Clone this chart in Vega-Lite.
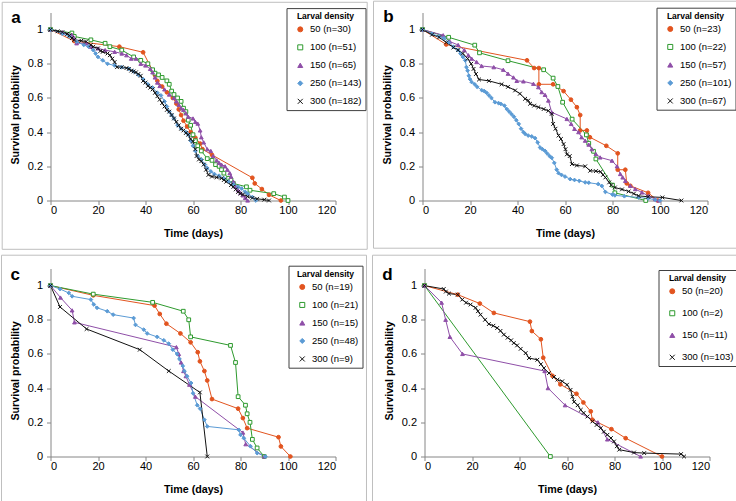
{
"$schema":"https://vega.github.io/schema/vega-lite/v6.json",
"padding":{"left":0.5,"top":0.5,"right":0,"bottom":0},
"spacing":4,
"data":{"values":[
{"p":"a","g":"50 (n=30)","t":0,"s":1},{"p":"a","g":"50 (n=30)","t":10,"s":0.933},{"p":"a","g":"50 (n=30)","t":29,"s":0.9},{"p":"a","g":"50 (n=30)","t":39,"s":0.867},{"p":"a","g":"50 (n=30)","t":44,"s":0.733},{"p":"a","g":"50 (n=30)","t":45,"s":0.7},{"p":"a","g":"50 (n=30)","t":47,"s":0.667},{"p":"a","g":"50 (n=30)","t":49,"s":0.633},{"p":"a","g":"50 (n=30)","t":51.5,"s":0.6},{"p":"a","g":"50 (n=30)","t":53,"s":0.567},{"p":"a","g":"50 (n=30)","t":54,"s":0.533},{"p":"a","g":"50 (n=30)","t":55,"s":0.5},{"p":"a","g":"50 (n=30)","t":56,"s":0.467},{"p":"a","g":"50 (n=30)","t":57.5,"s":0.433},{"p":"a","g":"50 (n=30)","t":59,"s":0.4},{"p":"a","g":"50 (n=30)","t":61,"s":0.367},{"p":"a","g":"50 (n=30)","t":63,"s":0.333},{"p":"a","g":"50 (n=30)","t":64,"s":0.3},{"p":"a","g":"50 (n=30)","t":68,"s":0.267},{"p":"a","g":"50 (n=30)","t":85,"s":0.133},{"p":"a","g":"50 (n=30)","t":86,"s":0.1},{"p":"a","g":"50 (n=30)","t":89,"s":0.067},{"p":"a","g":"50 (n=30)","t":92,"s":0.033},{"p":"a","g":"50 (n=30)","t":97,"s":0},
{"p":"a","g":"100 (n=51)","t":0,"s":1},{"p":"a","g":"100 (n=51)","t":9,"s":0.98},{"p":"a","g":"100 (n=51)","t":10,"s":0.96},{"p":"a","g":"100 (n=51)","t":17,"s":0.94},{"p":"a","g":"100 (n=51)","t":23,"s":0.92},{"p":"a","g":"100 (n=51)","t":25,"s":0.9},{"p":"a","g":"100 (n=51)","t":30,"s":0.88},{"p":"a","g":"100 (n=51)","t":35,"s":0.84},{"p":"a","g":"100 (n=51)","t":38,"s":0.82},{"p":"a","g":"100 (n=51)","t":41,"s":0.8},{"p":"a","g":"100 (n=51)","t":43,"s":0.765},{"p":"a","g":"100 (n=51)","t":44,"s":0.745},{"p":"a","g":"100 (n=51)","t":45.5,"s":0.735},{"p":"a","g":"100 (n=51)","t":47,"s":0.72},{"p":"a","g":"100 (n=51)","t":49,"s":0.7},{"p":"a","g":"100 (n=51)","t":50,"s":0.68},{"p":"a","g":"100 (n=51)","t":51,"s":0.64},{"p":"a","g":"100 (n=51)","t":52,"s":0.62},{"p":"a","g":"100 (n=51)","t":53.5,"s":0.6},{"p":"a","g":"100 (n=51)","t":55,"s":0.58},{"p":"a","g":"100 (n=51)","t":56,"s":0.54},{"p":"a","g":"100 (n=51)","t":57,"s":0.52},{"p":"a","g":"100 (n=51)","t":58,"s":0.47},{"p":"a","g":"100 (n=51)","t":59,"s":0.44},{"p":"a","g":"100 (n=51)","t":60,"s":0.385},{"p":"a","g":"100 (n=51)","t":61,"s":0.35},{"p":"a","g":"100 (n=51)","t":62,"s":0.32},{"p":"a","g":"100 (n=51)","t":63.5,"s":0.29},{"p":"a","g":"100 (n=51)","t":66,"s":0.245},{"p":"a","g":"100 (n=51)","t":68,"s":0.235},{"p":"a","g":"100 (n=51)","t":69.5,"s":0.21},{"p":"a","g":"100 (n=51)","t":71,"s":0.2},{"p":"a","g":"100 (n=51)","t":72,"s":0.18},{"p":"a","g":"100 (n=51)","t":73,"s":0.16},{"p":"a","g":"100 (n=51)","t":75,"s":0.13},{"p":"a","g":"100 (n=51)","t":76,"s":0.12},{"p":"a","g":"100 (n=51)","t":77,"s":0.1},{"p":"a","g":"100 (n=51)","t":82.5,"s":0.08},{"p":"a","g":"100 (n=51)","t":84,"s":0.06},{"p":"a","g":"100 (n=51)","t":94,"s":0.04},{"p":"a","g":"100 (n=51)","t":98.5,"s":0.02},{"p":"a","g":"100 (n=51)","t":100,"s":0},
{"p":"a","g":"150 (n=65)","t":0,"s":1},{"p":"a","g":"150 (n=65)","t":5,"s":0.985},{"p":"a","g":"150 (n=65)","t":9,"s":0.97},{"p":"a","g":"150 (n=65)","t":10,"s":0.95},{"p":"a","g":"150 (n=65)","t":11,"s":0.92},{"p":"a","g":"150 (n=65)","t":15,"s":0.92},{"p":"a","g":"150 (n=65)","t":17,"s":0.9},{"p":"a","g":"150 (n=65)","t":20,"s":0.89},{"p":"a","g":"150 (n=65)","t":23,"s":0.88},{"p":"a","g":"150 (n=65)","t":27,"s":0.87},{"p":"a","g":"150 (n=65)","t":30,"s":0.86},{"p":"a","g":"150 (n=65)","t":32,"s":0.85},{"p":"a","g":"150 (n=65)","t":34,"s":0.83},{"p":"a","g":"150 (n=65)","t":36,"s":0.83},{"p":"a","g":"150 (n=65)","t":38,"s":0.8},{"p":"a","g":"150 (n=65)","t":40,"s":0.79},{"p":"a","g":"150 (n=65)","t":42,"s":0.77},{"p":"a","g":"150 (n=65)","t":43,"s":0.75},{"p":"a","g":"150 (n=65)","t":44,"s":0.72},{"p":"a","g":"150 (n=65)","t":45,"s":0.69},{"p":"a","g":"150 (n=65)","t":46,"s":0.67},{"p":"a","g":"150 (n=65)","t":48,"s":0.65},{"p":"a","g":"150 (n=65)","t":50,"s":0.62},{"p":"a","g":"150 (n=65)","t":52,"s":0.6},{"p":"a","g":"150 (n=65)","t":53,"s":0.58},{"p":"a","g":"150 (n=65)","t":54,"s":0.56},{"p":"a","g":"150 (n=65)","t":55,"s":0.54},{"p":"a","g":"150 (n=65)","t":56,"s":0.53},{"p":"a","g":"150 (n=65)","t":57,"s":0.51},{"p":"a","g":"150 (n=65)","t":58,"s":0.49},{"p":"a","g":"150 (n=65)","t":60,"s":0.48},{"p":"a","g":"150 (n=65)","t":61,"s":0.46},{"p":"a","g":"150 (n=65)","t":62,"s":0.45},{"p":"a","g":"150 (n=65)","t":63,"s":0.41},{"p":"a","g":"150 (n=65)","t":63.5,"s":0.37},{"p":"a","g":"150 (n=65)","t":64.5,"s":0.34},{"p":"a","g":"150 (n=65)","t":66,"s":0.3},{"p":"a","g":"150 (n=65)","t":67.5,"s":0.29},{"p":"a","g":"150 (n=65)","t":68.5,"s":0.26},{"p":"a","g":"150 (n=65)","t":70,"s":0.235},{"p":"a","g":"150 (n=65)","t":71,"s":0.22},{"p":"a","g":"150 (n=65)","t":72,"s":0.21},{"p":"a","g":"150 (n=65)","t":73.5,"s":0.2},{"p":"a","g":"150 (n=65)","t":74.5,"s":0.18},{"p":"a","g":"150 (n=65)","t":75.5,"s":0.16},{"p":"a","g":"150 (n=65)","t":76,"s":0.14},{"p":"a","g":"150 (n=65)","t":77,"s":0.11},{"p":"a","g":"150 (n=65)","t":78,"s":0.08},{"p":"a","g":"150 (n=65)","t":79,"s":0.06},{"p":"a","g":"150 (n=65)","t":80,"s":0.045},{"p":"a","g":"150 (n=65)","t":81,"s":0.03},{"p":"a","g":"150 (n=65)","t":82,"s":0.015},{"p":"a","g":"150 (n=65)","t":83,"s":0},
{"p":"a","g":"250 (n=143)","t":0,"s":1},{"p":"a","g":"250 (n=143)","t":5,"s":0.975},{"p":"a","g":"250 (n=143)","t":8,"s":0.96},{"p":"a","g":"250 (n=143)","t":11,"s":0.93},{"p":"a","g":"250 (n=143)","t":14,"s":0.91},{"p":"a","g":"250 (n=143)","t":16,"s":0.9},{"p":"a","g":"250 (n=143)","t":18,"s":0.88},{"p":"a","g":"250 (n=143)","t":19,"s":0.86},{"p":"a","g":"250 (n=143)","t":20,"s":0.84},{"p":"a","g":"250 (n=143)","t":22,"s":0.82},{"p":"a","g":"250 (n=143)","t":24,"s":0.8},{"p":"a","g":"250 (n=143)","t":27,"s":0.79},{"p":"a","g":"250 (n=143)","t":30,"s":0.78},{"p":"a","g":"250 (n=143)","t":33,"s":0.77},{"p":"a","g":"250 (n=143)","t":35,"s":0.755},{"p":"a","g":"250 (n=143)","t":37,"s":0.735},{"p":"a","g":"250 (n=143)","t":39,"s":0.71},{"p":"a","g":"250 (n=143)","t":41,"s":0.68},{"p":"a","g":"250 (n=143)","t":43,"s":0.66},{"p":"a","g":"250 (n=143)","t":45,"s":0.63},{"p":"a","g":"250 (n=143)","t":46.5,"s":0.615},{"p":"a","g":"250 (n=143)","t":48,"s":0.58},{"p":"a","g":"250 (n=143)","t":49,"s":0.55},{"p":"a","g":"250 (n=143)","t":50,"s":0.52},{"p":"a","g":"250 (n=143)","t":51,"s":0.5},{"p":"a","g":"250 (n=143)","t":52,"s":0.48},{"p":"a","g":"250 (n=143)","t":53.5,"s":0.44},{"p":"a","g":"250 (n=143)","t":55,"s":0.42},{"p":"a","g":"250 (n=143)","t":57,"s":0.4},{"p":"a","g":"250 (n=143)","t":58,"s":0.385},{"p":"a","g":"250 (n=143)","t":59,"s":0.35},{"p":"a","g":"250 (n=143)","t":60,"s":0.32},{"p":"a","g":"250 (n=143)","t":61,"s":0.29},{"p":"a","g":"250 (n=143)","t":62,"s":0.26},{"p":"a","g":"250 (n=143)","t":63.5,"s":0.24},{"p":"a","g":"250 (n=143)","t":65,"s":0.21},{"p":"a","g":"250 (n=143)","t":66,"s":0.19},{"p":"a","g":"250 (n=143)","t":67.5,"s":0.17},{"p":"a","g":"250 (n=143)","t":69,"s":0.155},{"p":"a","g":"250 (n=143)","t":71,"s":0.145},{"p":"a","g":"250 (n=143)","t":73,"s":0.13},{"p":"a","g":"250 (n=143)","t":75,"s":0.11},{"p":"a","g":"250 (n=143)","t":77,"s":0.095},{"p":"a","g":"250 (n=143)","t":79,"s":0.08},{"p":"a","g":"250 (n=143)","t":80.5,"s":0.07},{"p":"a","g":"250 (n=143)","t":82,"s":0.05},{"p":"a","g":"250 (n=143)","t":83,"s":0.04},{"p":"a","g":"250 (n=143)","t":85,"s":0.02},{"p":"a","g":"250 (n=143)","t":86.5,"s":0},
{"p":"a","g":"300 (n=182)","t":0,"s":1},{"p":"a","g":"300 (n=182)","t":3,"s":0.99},{"p":"a","g":"300 (n=182)","t":5,"s":0.985},{"p":"a","g":"300 (n=182)","t":7,"s":0.975},{"p":"a","g":"300 (n=182)","t":8,"s":0.965},{"p":"a","g":"300 (n=182)","t":9,"s":0.95},{"p":"a","g":"300 (n=182)","t":10,"s":0.94},{"p":"a","g":"300 (n=182)","t":13,"s":0.935},{"p":"a","g":"300 (n=182)","t":15,"s":0.93},{"p":"a","g":"300 (n=182)","t":17,"s":0.91},{"p":"a","g":"300 (n=182)","t":18,"s":0.9},{"p":"a","g":"300 (n=182)","t":20,"s":0.89},{"p":"a","g":"300 (n=182)","t":21,"s":0.875},{"p":"a","g":"300 (n=182)","t":22,"s":0.87},{"p":"a","g":"300 (n=182)","t":24,"s":0.86},{"p":"a","g":"300 (n=182)","t":25,"s":0.85},{"p":"a","g":"300 (n=182)","t":26,"s":0.83},{"p":"a","g":"300 (n=182)","t":27,"s":0.81},{"p":"a","g":"300 (n=182)","t":28,"s":0.78},{"p":"a","g":"300 (n=182)","t":30,"s":0.78},{"p":"a","g":"300 (n=182)","t":32,"s":0.775},{"p":"a","g":"300 (n=182)","t":33,"s":0.77},{"p":"a","g":"300 (n=182)","t":34,"s":0.76},{"p":"a","g":"300 (n=182)","t":35,"s":0.755},{"p":"a","g":"300 (n=182)","t":36,"s":0.75},{"p":"a","g":"300 (n=182)","t":37,"s":0.74},{"p":"a","g":"300 (n=182)","t":38,"s":0.73},{"p":"a","g":"300 (n=182)","t":39,"s":0.7},{"p":"a","g":"300 (n=182)","t":40,"s":0.69},{"p":"a","g":"300 (n=182)","t":41,"s":0.67},{"p":"a","g":"300 (n=182)","t":42,"s":0.66},{"p":"a","g":"300 (n=182)","t":43,"s":0.65},{"p":"a","g":"300 (n=182)","t":44,"s":0.63},{"p":"a","g":"300 (n=182)","t":45,"s":0.61},{"p":"a","g":"300 (n=182)","t":46,"s":0.59},{"p":"a","g":"300 (n=182)","t":47,"s":0.57},{"p":"a","g":"300 (n=182)","t":48,"s":0.55},{"p":"a","g":"300 (n=182)","t":49,"s":0.53},{"p":"a","g":"300 (n=182)","t":50,"s":0.52},{"p":"a","g":"300 (n=182)","t":51,"s":0.5},{"p":"a","g":"300 (n=182)","t":52,"s":0.48},{"p":"a","g":"300 (n=182)","t":53,"s":0.46},{"p":"a","g":"300 (n=182)","t":54,"s":0.44},{"p":"a","g":"300 (n=182)","t":55,"s":0.42},{"p":"a","g":"300 (n=182)","t":56,"s":0.41},{"p":"a","g":"300 (n=182)","t":57,"s":0.395},{"p":"a","g":"300 (n=182)","t":58,"s":0.385},{"p":"a","g":"300 (n=182)","t":59,"s":0.36},{"p":"a","g":"300 (n=182)","t":60,"s":0.345},{"p":"a","g":"300 (n=182)","t":61,"s":0.3},{"p":"a","g":"300 (n=182)","t":61.5,"s":0.26},{"p":"a","g":"300 (n=182)","t":62.5,"s":0.24},{"p":"a","g":"300 (n=182)","t":63.5,"s":0.23},{"p":"a","g":"300 (n=182)","t":64.5,"s":0.21},{"p":"a","g":"300 (n=182)","t":65.5,"s":0.18},{"p":"a","g":"300 (n=182)","t":66.5,"s":0.15},{"p":"a","g":"300 (n=182)","t":68,"s":0.14},{"p":"a","g":"300 (n=182)","t":70,"s":0.135},{"p":"a","g":"300 (n=182)","t":72,"s":0.13},{"p":"a","g":"300 (n=182)","t":73,"s":0.12},{"p":"a","g":"300 (n=182)","t":74,"s":0.11},{"p":"a","g":"300 (n=182)","t":76,"s":0.09},{"p":"a","g":"300 (n=182)","t":77,"s":0.08},{"p":"a","g":"300 (n=182)","t":78,"s":0.065},{"p":"a","g":"300 (n=182)","t":79,"s":0.05},{"p":"a","g":"300 (n=182)","t":80,"s":0.04},{"p":"a","g":"300 (n=182)","t":81,"s":0.035},{"p":"a","g":"300 (n=182)","t":83,"s":0.023},{"p":"a","g":"300 (n=182)","t":85,"s":0.015},{"p":"a","g":"300 (n=182)","t":87,"s":0.01},{"p":"a","g":"300 (n=182)","t":90,"s":0.005},{"p":"a","g":"300 (n=182)","t":92,"s":0},
{"p":"b","g":"50 (n=23)","t":0,"s":1},{"p":"b","g":"50 (n=23)","t":10,"s":0.913},{"p":"b","g":"50 (n=23)","t":44,"s":0.82},{"p":"b","g":"50 (n=23)","t":47,"s":0.775},{"p":"b","g":"50 (n=23)","t":49,"s":0.775},{"p":"b","g":"50 (n=23)","t":49,"s":0.68},{"p":"b","g":"50 (n=23)","t":55,"s":0.68},{"p":"b","g":"50 (n=23)","t":59.4,"s":0.64},{"p":"b","g":"50 (n=23)","t":62.5,"s":0.59},{"p":"b","g":"50 (n=23)","t":65,"s":0.546},{"p":"b","g":"50 (n=23)","t":66.4,"s":0.5},{"p":"b","g":"50 (n=23)","t":66.4,"s":0.41},{"p":"b","g":"50 (n=23)","t":69.2,"s":0.41},{"p":"b","g":"50 (n=23)","t":70.5,"s":0.37},{"p":"b","g":"50 (n=23)","t":77.4,"s":0.32},{"p":"b","g":"50 (n=23)","t":82.2,"s":0.276},{"p":"b","g":"50 (n=23)","t":82.2,"s":0.18},{"p":"b","g":"50 (n=23)","t":85.4,"s":0.18},{"p":"b","g":"50 (n=23)","t":86,"s":0.1},{"p":"b","g":"50 (n=23)","t":87.5,"s":0.086},{"p":"b","g":"50 (n=23)","t":95,"s":0.045},{"p":"b","g":"50 (n=23)","t":99,"s":0},
{"p":"b","g":"100 (n=22)","t":0,"s":1},{"p":"b","g":"100 (n=22)","t":11,"s":0.955},{"p":"b","g":"100 (n=22)","t":22,"s":0.909},{"p":"b","g":"100 (n=22)","t":24,"s":0.864},{"p":"b","g":"100 (n=22)","t":36,"s":0.818},{"p":"b","g":"100 (n=22)","t":51,"s":0.765},{"p":"b","g":"100 (n=22)","t":55,"s":0.716},{"p":"b","g":"100 (n=22)","t":57,"s":0.667},{"p":"b","g":"100 (n=22)","t":59,"s":0.575},{"p":"b","g":"100 (n=22)","t":63,"s":0.476},{"p":"b","g":"100 (n=22)","t":69,"s":0.384},{"p":"b","g":"100 (n=22)","t":70,"s":0.335},{"p":"b","g":"100 (n=22)","t":72,"s":0.288},{"p":"b","g":"100 (n=22)","t":73,"s":0.243},{"p":"b","g":"100 (n=22)","t":80,"s":0.09},{"p":"b","g":"100 (n=22)","t":81,"s":0.045},{"p":"b","g":"100 (n=22)","t":94,"s":0},
{"p":"b","g":"150 (n=57)","t":0,"s":1},{"p":"b","g":"150 (n=57)","t":8.7,"s":0.967},{"p":"b","g":"150 (n=57)","t":11.5,"s":0.93},{"p":"b","g":"150 (n=57)","t":15,"s":0.91},{"p":"b","g":"150 (n=57)","t":17.6,"s":0.88},{"p":"b","g":"150 (n=57)","t":19.3,"s":0.85},{"p":"b","g":"150 (n=57)","t":20.7,"s":0.83},{"p":"b","g":"150 (n=57)","t":22.8,"s":0.81},{"p":"b","g":"150 (n=57)","t":24.9,"s":0.787},{"p":"b","g":"150 (n=57)","t":30,"s":0.78},{"p":"b","g":"150 (n=57)","t":34,"s":0.765},{"p":"b","g":"150 (n=57)","t":36,"s":0.742},{"p":"b","g":"150 (n=57)","t":38.3,"s":0.72},{"p":"b","g":"150 (n=57)","t":39.7,"s":0.7},{"p":"b","g":"150 (n=57)","t":42.5,"s":0.697},{"p":"b","g":"150 (n=57)","t":46.7,"s":0.683},{"p":"b","g":"150 (n=57)","t":48.8,"s":0.663},{"p":"b","g":"150 (n=57)","t":50.2,"s":0.634},{"p":"b","g":"150 (n=57)","t":51.6,"s":0.618},{"p":"b","g":"150 (n=57)","t":53,"s":0.585},{"p":"b","g":"150 (n=57)","t":54.4,"s":0.516},{"p":"b","g":"150 (n=57)","t":60.8,"s":0.477},{"p":"b","g":"150 (n=57)","t":62.6,"s":0.448},{"p":"b","g":"150 (n=57)","t":64,"s":0.419},{"p":"b","g":"150 (n=57)","t":65.7,"s":0.4},{"p":"b","g":"150 (n=57)","t":67,"s":0.37},{"p":"b","g":"150 (n=57)","t":68.5,"s":0.35},{"p":"b","g":"150 (n=57)","t":70,"s":0.327},{"p":"b","g":"150 (n=57)","t":71.3,"s":0.3},{"p":"b","g":"150 (n=57)","t":73,"s":0.272},{"p":"b","g":"150 (n=57)","t":74.8,"s":0.252},{"p":"b","g":"150 (n=57)","t":79.8,"s":0.233},{"p":"b","g":"150 (n=57)","t":81.9,"s":0.2},{"p":"b","g":"150 (n=57)","t":83.3,"s":0.155},{"p":"b","g":"150 (n=57)","t":84.3,"s":0.135},{"p":"b","g":"150 (n=57)","t":85.4,"s":0.115},{"p":"b","g":"150 (n=57)","t":87.5,"s":0.086},{"p":"b","g":"150 (n=57)","t":89.6,"s":0.067},{"p":"b","g":"150 (n=57)","t":92.4,"s":0.047},{"p":"b","g":"150 (n=57)","t":95.2,"s":0.027},{"p":"b","g":"150 (n=57)","t":98,"s":0.008},{"p":"b","g":"150 (n=57)","t":99.5,"s":0},
{"p":"b","g":"250 (n=101)","t":0,"s":1},{"p":"b","g":"250 (n=101)","t":4,"s":0.975},{"p":"b","g":"250 (n=101)","t":7,"s":0.96},{"p":"b","g":"250 (n=101)","t":9,"s":0.95},{"p":"b","g":"250 (n=101)","t":11,"s":0.925},{"p":"b","g":"250 (n=101)","t":13,"s":0.9},{"p":"b","g":"250 (n=101)","t":15,"s":0.88},{"p":"b","g":"250 (n=101)","t":16,"s":0.86},{"p":"b","g":"250 (n=101)","t":17,"s":0.84},{"p":"b","g":"250 (n=101)","t":18,"s":0.82},{"p":"b","g":"250 (n=101)","t":18.5,"s":0.78},{"p":"b","g":"250 (n=101)","t":19,"s":0.76},{"p":"b","g":"250 (n=101)","t":19.5,"s":0.73},{"p":"b","g":"250 (n=101)","t":20,"s":0.71},{"p":"b","g":"250 (n=101)","t":20.7,"s":0.693},{"p":"b","g":"250 (n=101)","t":22,"s":0.68},{"p":"b","g":"250 (n=101)","t":23,"s":0.665},{"p":"b","g":"250 (n=101)","t":25,"s":0.645},{"p":"b","g":"250 (n=101)","t":26,"s":0.64},{"p":"b","g":"250 (n=101)","t":27,"s":0.63},{"p":"b","g":"250 (n=101)","t":28,"s":0.615},{"p":"b","g":"250 (n=101)","t":29,"s":0.6},{"p":"b","g":"250 (n=101)","t":30.5,"s":0.575},{"p":"b","g":"250 (n=101)","t":32,"s":0.57},{"p":"b","g":"250 (n=101)","t":33,"s":0.565},{"p":"b","g":"250 (n=101)","t":34.5,"s":0.555},{"p":"b","g":"250 (n=101)","t":35.5,"s":0.535},{"p":"b","g":"250 (n=101)","t":36.5,"s":0.52},{"p":"b","g":"250 (n=101)","t":37.5,"s":0.505},{"p":"b","g":"250 (n=101)","t":38.5,"s":0.49},{"p":"b","g":"250 (n=101)","t":39.5,"s":0.47},{"p":"b","g":"250 (n=101)","t":40.5,"s":0.448},{"p":"b","g":"250 (n=101)","t":41.5,"s":0.42},{"p":"b","g":"250 (n=101)","t":42.5,"s":0.4},{"p":"b","g":"250 (n=101)","t":43.2,"s":0.39},{"p":"b","g":"250 (n=101)","t":44.5,"s":0.38},{"p":"b","g":"250 (n=101)","t":46,"s":0.375},{"p":"b","g":"250 (n=101)","t":47.4,"s":0.365},{"p":"b","g":"250 (n=101)","t":48.5,"s":0.34},{"p":"b","g":"250 (n=101)","t":49.5,"s":0.31},{"p":"b","g":"250 (n=101)","t":50.5,"s":0.3},{"p":"b","g":"250 (n=101)","t":51.6,"s":0.29},{"p":"b","g":"250 (n=101)","t":52.5,"s":0.275},{"p":"b","g":"250 (n=101)","t":53.5,"s":0.26},{"p":"b","g":"250 (n=101)","t":54.4,"s":0.25},{"p":"b","g":"250 (n=101)","t":55.5,"s":0.22},{"p":"b","g":"250 (n=101)","t":56.5,"s":0.18},{"p":"b","g":"250 (n=101)","t":57.3,"s":0.16},{"p":"b","g":"250 (n=101)","t":58.5,"s":0.15},{"p":"b","g":"250 (n=101)","t":60,"s":0.14},{"p":"b","g":"250 (n=101)","t":62.2,"s":0.125},{"p":"b","g":"250 (n=101)","t":64,"s":0.12},{"p":"b","g":"250 (n=101)","t":66,"s":0.115},{"p":"b","g":"250 (n=101)","t":68.5,"s":0.106},{"p":"b","g":"250 (n=101)","t":70,"s":0.104},{"p":"b","g":"250 (n=101)","t":74,"s":0.096},{"p":"b","g":"250 (n=101)","t":75.5,"s":0.085},{"p":"b","g":"250 (n=101)","t":77,"s":0.05},{"p":"b","g":"250 (n=101)","t":80,"s":0.035},{"p":"b","g":"250 (n=101)","t":81,"s":0.03},{"p":"b","g":"250 (n=101)","t":85,"s":0.025},{"p":"b","g":"250 (n=101)","t":91,"s":0.018},{"p":"b","g":"250 (n=101)","t":95,"s":0.012},{"p":"b","g":"250 (n=101)","t":98,"s":0.004},{"p":"b","g":"250 (n=101)","t":100,"s":0},
{"p":"b","g":"300 (n=67)","t":0,"s":1},{"p":"b","g":"300 (n=67)","t":4,"s":0.97},{"p":"b","g":"300 (n=67)","t":7,"s":0.955},{"p":"b","g":"300 (n=67)","t":10,"s":0.925},{"p":"b","g":"300 (n=67)","t":13,"s":0.895},{"p":"b","g":"300 (n=67)","t":15,"s":0.88},{"p":"b","g":"300 (n=67)","t":17,"s":0.86},{"p":"b","g":"300 (n=67)","t":19,"s":0.83},{"p":"b","g":"300 (n=67)","t":20.5,"s":0.8},{"p":"b","g":"300 (n=67)","t":21.5,"s":0.77},{"p":"b","g":"300 (n=67)","t":22.5,"s":0.74},{"p":"b","g":"300 (n=67)","t":23.8,"s":0.708},{"p":"b","g":"300 (n=67)","t":28,"s":0.7},{"p":"b","g":"300 (n=67)","t":33.3,"s":0.68},{"p":"b","g":"300 (n=67)","t":36,"s":0.665},{"p":"b","g":"300 (n=67)","t":39,"s":0.644},{"p":"b","g":"300 (n=67)","t":41,"s":0.625},{"p":"b","g":"300 (n=67)","t":43.2,"s":0.595},{"p":"b","g":"300 (n=67)","t":44.5,"s":0.585},{"p":"b","g":"300 (n=67)","t":45.3,"s":0.566},{"p":"b","g":"300 (n=67)","t":47,"s":0.555},{"p":"b","g":"300 (n=67)","t":48.8,"s":0.546},{"p":"b","g":"300 (n=67)","t":51,"s":0.535},{"p":"b","g":"300 (n=67)","t":53,"s":0.525},{"p":"b","g":"300 (n=67)","t":54.4,"s":0.507},{"p":"b","g":"300 (n=67)","t":55,"s":0.448},{"p":"b","g":"300 (n=67)","t":56,"s":0.42},{"p":"b","g":"300 (n=67)","t":57.3,"s":0.38},{"p":"b","g":"300 (n=67)","t":58.3,"s":0.36},{"p":"b","g":"300 (n=67)","t":59.4,"s":0.33},{"p":"b","g":"300 (n=67)","t":60.2,"s":0.3},{"p":"b","g":"300 (n=67)","t":60.8,"s":0.27},{"p":"b","g":"300 (n=67)","t":62,"s":0.26},{"p":"b","g":"300 (n=67)","t":62.9,"s":0.213},{"p":"b","g":"300 (n=67)","t":65,"s":0.205},{"p":"b","g":"300 (n=67)","t":68.5,"s":0.2},{"p":"b","g":"300 (n=67)","t":70.6,"s":0.174},{"p":"b","g":"300 (n=67)","t":73,"s":0.172},{"p":"b","g":"300 (n=67)","t":75,"s":0.168},{"p":"b","g":"300 (n=67)","t":76,"s":0.15},{"p":"b","g":"300 (n=67)","t":77,"s":0.135},{"p":"b","g":"300 (n=67)","t":78.6,"s":0.106},{"p":"b","g":"300 (n=67)","t":79.5,"s":0.09},{"p":"b","g":"300 (n=67)","t":81,"s":0.076},{"p":"b","g":"300 (n=67)","t":84,"s":0.065},{"p":"b","g":"300 (n=67)","t":86.8,"s":0.053},{"p":"b","g":"300 (n=67)","t":89,"s":0.04},{"p":"b","g":"300 (n=67)","t":91,"s":0.027},{"p":"b","g":"300 (n=67)","t":95,"s":0.022},{"p":"b","g":"300 (n=67)","t":101,"s":0.018},{"p":"b","g":"300 (n=67)","t":109,"s":0},
{"p":"c","g":"50 (n=19)","t":0,"s":1},{"p":"c","g":"50 (n=19)","t":18,"s":0.943},{"p":"c","g":"50 (n=19)","t":43.8,"s":0.883},{"p":"c","g":"50 (n=19)","t":46,"s":0.834},{"p":"c","g":"50 (n=19)","t":48.8,"s":0.777},{"p":"c","g":"50 (n=19)","t":54.7,"s":0.72},{"p":"c","g":"50 (n=19)","t":59,"s":0.668},{"p":"c","g":"50 (n=19)","t":62,"s":0.61},{"p":"c","g":"50 (n=19)","t":62.9,"s":0.557},{"p":"c","g":"50 (n=19)","t":64.8,"s":0.5},{"p":"c","g":"50 (n=19)","t":66,"s":0.445},{"p":"c","g":"50 (n=19)","t":68,"s":0.336},{"p":"c","g":"50 (n=19)","t":79,"s":0.28},{"p":"c","g":"50 (n=19)","t":81,"s":0.225},{"p":"c","g":"50 (n=19)","t":82.8,"s":0.166},{"p":"c","g":"50 (n=19)","t":96,"s":0.113},{"p":"c","g":"50 (n=19)","t":97,"s":0.059},{"p":"c","g":"50 (n=19)","t":101,"s":0},
{"p":"c","g":"100 (n=21)","t":0,"s":1},{"p":"c","g":"100 (n=21)","t":18,"s":0.95},{"p":"c","g":"100 (n=21)","t":43,"s":0.902},{"p":"c","g":"100 (n=21)","t":55.9,"s":0.85},{"p":"c","g":"100 (n=21)","t":58.2,"s":0.8},{"p":"c","g":"100 (n=21)","t":59,"s":0.7},{"p":"c","g":"100 (n=21)","t":75.8,"s":0.65},{"p":"c","g":"100 (n=21)","t":77.9,"s":0.55},{"p":"c","g":"100 (n=21)","t":79,"s":0.35},{"p":"c","g":"100 (n=21)","t":82.1,"s":0.3},{"p":"c","g":"100 (n=21)","t":82.8,"s":0.25},{"p":"c","g":"100 (n=21)","t":84,"s":0.2},{"p":"c","g":"100 (n=21)","t":85,"s":0.1},{"p":"c","g":"100 (n=21)","t":87,"s":0.05},{"p":"c","g":"100 (n=21)","t":90,"s":0},
{"p":"c","g":"150 (n=15)","t":0,"s":1},{"p":"c","g":"150 (n=15)","t":4.2,"s":0.93},{"p":"c","g":"150 (n=15)","t":9.1,"s":0.855},{"p":"c","g":"150 (n=15)","t":10.1,"s":0.785},{"p":"c","g":"150 (n=15)","t":53,"s":0.64},{"p":"c","g":"150 (n=15)","t":54,"s":0.6},{"p":"c","g":"150 (n=15)","t":55,"s":0.55},{"p":"c","g":"150 (n=15)","t":56,"s":0.5},{"p":"c","g":"150 (n=15)","t":57,"s":0.47},{"p":"c","g":"150 (n=15)","t":58.5,"s":0.42},{"p":"c","g":"150 (n=15)","t":61,"s":0.35},{"p":"c","g":"150 (n=15)","t":81,"s":0.14},{"p":"c","g":"150 (n=15)","t":82.2,"s":0.072},{"p":"c","g":"150 (n=15)","t":90,"s":0},
{"p":"c","g":"250 (n=48)","t":0,"s":1},{"p":"c","g":"250 (n=48)","t":4,"s":0.98},{"p":"c","g":"250 (n=48)","t":7.7,"s":0.957},{"p":"c","g":"250 (n=48)","t":9.1,"s":0.9375},{"p":"c","g":"250 (n=48)","t":17,"s":0.918},{"p":"c","g":"250 (n=48)","t":18.2,"s":0.89},{"p":"c","g":"250 (n=48)","t":19.6,"s":0.87},{"p":"c","g":"250 (n=48)","t":23.9,"s":0.85},{"p":"c","g":"250 (n=48)","t":26.4,"s":0.83},{"p":"c","g":"250 (n=48)","t":35,"s":0.81},{"p":"c","g":"250 (n=48)","t":35.8,"s":0.77},{"p":"c","g":"250 (n=48)","t":39.3,"s":0.742},{"p":"c","g":"250 (n=48)","t":40.7,"s":0.72},{"p":"c","g":"250 (n=48)","t":44.9,"s":0.7},{"p":"c","g":"250 (n=48)","t":47.7,"s":0.68},{"p":"c","g":"250 (n=48)","t":49.8,"s":0.66},{"p":"c","g":"250 (n=48)","t":51.5,"s":0.625},{"p":"c","g":"250 (n=48)","t":53.3,"s":0.6},{"p":"c","g":"250 (n=48)","t":54.3,"s":0.57},{"p":"c","g":"250 (n=48)","t":55.7,"s":0.53},{"p":"c","g":"250 (n=48)","t":56.4,"s":0.5},{"p":"c","g":"250 (n=48)","t":57.5,"s":0.47},{"p":"c","g":"250 (n=48)","t":59.2,"s":0.43},{"p":"c","g":"250 (n=48)","t":60,"s":0.37},{"p":"c","g":"250 (n=48)","t":61.8,"s":0.3},{"p":"c","g":"250 (n=48)","t":63,"s":0.28},{"p":"c","g":"250 (n=48)","t":64.8,"s":0.215},{"p":"c","g":"250 (n=48)","t":66,"s":0.176},{"p":"c","g":"250 (n=48)","t":79.3,"s":0.156},{"p":"c","g":"250 (n=48)","t":80,"s":0.127},{"p":"c","g":"250 (n=48)","t":81.4,"s":0.107},{"p":"c","g":"250 (n=48)","t":84.2,"s":0.06},{"p":"c","g":"250 (n=48)","t":87,"s":0.02},{"p":"c","g":"250 (n=48)","t":90.5,"s":0},
{"p":"c","g":"300 (n=9)","t":0,"s":1},{"p":"c","g":"300 (n=9)","t":4,"s":0.875},{"p":"c","g":"300 (n=9)","t":15.2,"s":0.746},{"p":"c","g":"300 (n=9)","t":37.6,"s":0.625},{"p":"c","g":"300 (n=9)","t":49.8,"s":0.5},{"p":"c","g":"300 (n=9)","t":62.9,"s":0.375},{"p":"c","g":"300 (n=9)","t":66,"s":0},
{"p":"d","g":"50 (n=20)","t":0,"s":1},{"p":"d","g":"50 (n=20)","t":14,"s":0.947},{"p":"d","g":"50 (n=20)","t":23.3,"s":0.895},{"p":"d","g":"50 (n=20)","t":29.2,"s":0.84},{"p":"d","g":"50 (n=20)","t":44.4,"s":0.789},{"p":"d","g":"50 (n=20)","t":45.2,"s":0.734},{"p":"d","g":"50 (n=20)","t":49,"s":0.686},{"p":"d","g":"50 (n=20)","t":50,"s":0.578},{"p":"d","g":"50 (n=20)","t":53.9,"s":0.472},{"p":"d","g":"50 (n=20)","t":57.2,"s":0.422},{"p":"d","g":"50 (n=20)","t":64,"s":0.367},{"p":"d","g":"50 (n=20)","t":66.9,"s":0.316},{"p":"d","g":"50 (n=20)","t":70,"s":0.264},{"p":"d","g":"50 (n=20)","t":70.7,"s":0.215},{"p":"d","g":"50 (n=20)","t":78.7,"s":0.16},{"p":"d","g":"50 (n=20)","t":84.7,"s":0.107},{"p":"d","g":"50 (n=20)","t":100,"s":0},
{"p":"d","g":"100 (n=2)","t":0,"s":1},{"p":"d","g":"100 (n=2)","t":53,"s":0},
{"p":"d","g":"150 (n=11)","t":0,"s":1},{"p":"d","g":"150 (n=11)","t":7.2,"s":0.9},{"p":"d","g":"150 (n=11)","t":8.9,"s":0.8},{"p":"d","g":"150 (n=11)","t":10.7,"s":0.7},{"p":"d","g":"150 (n=11)","t":16,"s":0.6},{"p":"d","g":"150 (n=11)","t":50.6,"s":0.5},{"p":"d","g":"150 (n=11)","t":52,"s":0.4},{"p":"d","g":"150 (n=11)","t":59.2,"s":0.3},{"p":"d","g":"150 (n=11)","t":73,"s":0.2},{"p":"d","g":"150 (n=11)","t":77,"s":0.1},{"p":"d","g":"150 (n=11)","t":91,"s":0},
{"p":"d","g":"300 (n=103)","t":0,"s":1},{"p":"d","g":"300 (n=103)","t":8.1,"s":0.98},{"p":"d","g":"300 (n=103)","t":9,"s":0.965},{"p":"d","g":"300 (n=103)","t":10.3,"s":0.953},{"p":"d","g":"300 (n=103)","t":14,"s":0.947},{"p":"d","g":"300 (n=103)","t":15.9,"s":0.918},{"p":"d","g":"300 (n=103)","t":17.5,"s":0.9},{"p":"d","g":"300 (n=103)","t":19.4,"s":0.889},{"p":"d","g":"300 (n=103)","t":21.5,"s":0.87},{"p":"d","g":"300 (n=103)","t":22.5,"s":0.85},{"p":"d","g":"300 (n=103)","t":23.6,"s":0.83},{"p":"d","g":"300 (n=103)","t":25.5,"s":0.8},{"p":"d","g":"300 (n=103)","t":27.1,"s":0.775},{"p":"d","g":"300 (n=103)","t":29,"s":0.765},{"p":"d","g":"300 (n=103)","t":30.6,"s":0.752},{"p":"d","g":"300 (n=103)","t":32,"s":0.735},{"p":"d","g":"300 (n=103)","t":33.4,"s":0.713},{"p":"d","g":"300 (n=103)","t":35,"s":0.695},{"p":"d","g":"300 (n=103)","t":36.5,"s":0.68},{"p":"d","g":"300 (n=103)","t":37.6,"s":0.664},{"p":"d","g":"300 (n=103)","t":39,"s":0.65},{"p":"d","g":"300 (n=103)","t":40.5,"s":0.63},{"p":"d","g":"300 (n=103)","t":42.6,"s":0.605},{"p":"d","g":"300 (n=103)","t":44,"s":0.576},{"p":"d","g":"300 (n=103)","t":47.5,"s":0.566},{"p":"d","g":"300 (n=103)","t":49,"s":0.54},{"p":"d","g":"300 (n=103)","t":50.3,"s":0.517},{"p":"d","g":"300 (n=103)","t":52.4,"s":0.488},{"p":"d","g":"300 (n=103)","t":54.5,"s":0.465},{"p":"d","g":"300 (n=103)","t":56,"s":0.45},{"p":"d","g":"300 (n=103)","t":58,"s":0.44},{"p":"d","g":"300 (n=103)","t":60,"s":0.42},{"p":"d","g":"300 (n=103)","t":61.5,"s":0.39},{"p":"d","g":"300 (n=103)","t":62.3,"s":0.35},{"p":"d","g":"300 (n=103)","t":63,"s":0.32},{"p":"d","g":"300 (n=103)","t":64.5,"s":0.3},{"p":"d","g":"300 (n=103)","t":65.8,"s":0.273},{"p":"d","g":"300 (n=103)","t":67,"s":0.255},{"p":"d","g":"300 (n=103)","t":68.6,"s":0.234},{"p":"d","g":"300 (n=103)","t":70.7,"s":0.205},{"p":"d","g":"300 (n=103)","t":72.5,"s":0.185},{"p":"d","g":"300 (n=103)","t":74.2,"s":0.166},{"p":"d","g":"300 (n=103)","t":75.5,"s":0.145},{"p":"d","g":"300 (n=103)","t":77,"s":0.127},{"p":"d","g":"300 (n=103)","t":78.5,"s":0.108},{"p":"d","g":"300 (n=103)","t":79.8,"s":0.088},{"p":"d","g":"300 (n=103)","t":81,"s":0.06},{"p":"d","g":"300 (n=103)","t":82,"s":0.04},{"p":"d","g":"300 (n=103)","t":88.2,"s":0.023},{"p":"d","g":"300 (n=103)","t":92.5,"s":0.02},{"p":"d","g":"300 (n=103)","t":108,"s":0.014},{"p":"d","g":"300 (n=103)","t":109.3,"s":0}
]},
"resolve":{"scale":{"color":"independent","fill":"independent","stroke":"independent","shape":"independent"},"legend":{"color":"independent"}},
"vconcat":[
{"hconcat":[
{"width":285,"height":188,
 "layer":[
  {"data":{"values":[{}]},"mark":{"type":"rect","fill":"#ffffff","fillOpacity":0,"stroke":"#bfbfbf","strokeWidth":1},
   "encoding":{"x":{"datum":-20.34,"type":"quantitative","scale":{"domain":[0,120],"nice":false,"zero":false},"axis":{"title":"Time (days)","values":[0,20,40,60,80,100,120],"tickCount":10,"grid":false}},"x2":{"datum":133.35},"y":{"datum":-0.2856,"type":"quantitative","scale":{"domain":[0,1.1],"nice":false,"zero":false},"axis":{"title":"Survival probability","values":[0,0.2,0.4,0.6,0.8,1],"tickCount":10,"format":".1~f","grid":false,"titleY":102}},"y2":{"datum":1.1597}}},
  {"data":{"values":[{}]},"mark":{"type":"text","text":"a","fontSize":17,"fontWeight":"bold","font":"Liberation Sans","align":"left","baseline":"alphabetic","color":"#000000"},
   "encoding":{"x":{"datum":-16.55,"type":"quantitative"},"y":{"datum":1.0368,"type":"quantitative"}}},
  {"transform":[{"filter":"datum.p==='a'"}],"mark":{"type":"line","strokeWidth":1},
   "encoding":{"x":{"field":"t","type":"quantitative","title":"Time (days)"},"y":{"field":"s","type":"quantitative","title":"Survival probability"},
   "color":{"field":"g","type":"nominal","scale":{"domain":["50 (n=30)","100 (n=51)","150 (n=65)","250 (n=143)","300 (n=182)"],"range":["#e2541f","#2e9a2e","#8f4fa8","#5b9bd5","#111111"]},"legend":{"title":"Larval density","orient":"none","legendX":236,"legendY":-4.4,"rowPadding":7,"labelFontSize":9.5,"titleFontSize":8.5,"encode":{"symbols":{"update":{"shape":{"signal":"indexof(datum.value,'50 ')===0 ? 'M-3,0H3M0.85,0A0.85,0.85,0,1,1,-0.85,0A0.85,0.85,0,1,1,0.85,0Z' : indexof(datum.value,'100 ')===0 ? 'M-3,0H-0.85M0.85,0H3M-0.85,-0.85H0.85V0.85H-0.85Z' : indexof(datum.value,'150 ')===0 ? 'M-3,0H3M0,-1L1,0.8H-1Z' : indexof(datum.value,'250 ')===0 ? 'M-3,0H3M0,-1L1,0L0,1L-1,0Z' : 'M-3,0H3M-0.85,-0.85L0.85,0.85M-0.85,0.85L0.85,-0.85'"},"size":{"value":25},"strokeWidth":{"value":1},"opacity":{"value":1}}}}}},
   "order":[{"field":"t","type":"quantitative"},{"field":"s","type":"quantitative","sort":"descending"}]}},
  {"transform":[{"filter":"datum.p==='a'"}],"mark":{"type":"point","filled":false,"size":14,"opacity":1,"strokeWidth":1},
   "encoding":{"x":{"field":"t","type":"quantitative"},"y":{"field":"s","type":"quantitative"},
   "stroke":{"field":"g","type":"nominal","scale":{"domain":["50 (n=30)","100 (n=51)","150 (n=65)","250 (n=143)","300 (n=182)"],"range":["#e2541f","#2e9a2e","#8f4fa8","#5b9bd5","#111111"]},"legend":null},
   "fill":{"field":"g","type":"nominal","scale":{"domain":["50 (n=30)","100 (n=51)","150 (n=65)","250 (n=143)","300 (n=182)"],"range":["#e2541f","#ffffff","#8f4fa8","#5b9bd5","#111111"]},"legend":null},
   "shape":{"field":"g","type":"nominal","scale":{"domain":["50 (n=30)","100 (n=51)","150 (n=65)","250 (n=143)","300 (n=182)"],"range":["circle","square","triangle-up","diamond","M-1,-1L1,1M-1,1L1,-1"]},"legend":null}}}
 ]},
{"width":285,"height":188,
 "layer":[
  {"data":{"values":[{}]},"mark":{"type":"rect","fill":"#ffffff","fillOpacity":0,"stroke":"#bfbfbf","strokeWidth":1},
   "encoding":{"x":{"datum":-20.63,"type":"quantitative","scale":{"domain":[0,120],"nice":false,"zero":false},"axis":{"title":"Time (days)","values":[0,20,40,60,80,100,120],"tickCount":10,"grid":false}},"x2":{"datum":133.05},"y":{"datum":-0.2792,"type":"quantitative","scale":{"domain":[0,1.1],"nice":false,"zero":false},"axis":{"title":"Survival probability","values":[0,0.2,0.4,0.6,0.8,1],"tickCount":10,"format":".1~f","grid":false,"titleY":102}},"y2":{"datum":1.1661}}},
  {"data":{"values":[{}]},"mark":{"type":"text","text":"b","fontSize":17,"fontWeight":"bold","font":"Liberation Sans","align":"left","baseline":"alphabetic","color":"#000000"},
   "encoding":{"x":{"datum":-16.55,"type":"quantitative"},"y":{"datum":1.0415,"type":"quantitative"}}},
  {"transform":[{"filter":"datum.p==='b'"}],"mark":{"type":"line","strokeWidth":1},
   "encoding":{"x":{"field":"t","type":"quantitative","title":"Time (days)"},"y":{"field":"s","type":"quantitative","title":"Survival probability"},
   "color":{"field":"g","type":"nominal","scale":{"domain":["50 (n=23)","100 (n=22)","150 (n=57)","250 (n=101)","300 (n=67)"],"range":["#e2541f","#2e9a2e","#8f4fa8","#5b9bd5","#111111"]},"legend":{"title":"Larval density","orient":"none","legendX":234,"legendY":-4.8,"rowPadding":7,"labelFontSize":9.5,"titleFontSize":8.5,"encode":{"symbols":{"update":{"shape":{"signal":"indexof(datum.value,'50 ')===0 ? 'M-3,0H3M0.85,0A0.85,0.85,0,1,1,-0.85,0A0.85,0.85,0,1,1,0.85,0Z' : indexof(datum.value,'100 ')===0 ? 'M-3,0H-0.85M0.85,0H3M-0.85,-0.85H0.85V0.85H-0.85Z' : indexof(datum.value,'150 ')===0 ? 'M-3,0H3M0,-1L1,0.8H-1Z' : indexof(datum.value,'250 ')===0 ? 'M-3,0H3M0,-1L1,0L0,1L-1,0Z' : 'M-3,0H3M-0.85,-0.85L0.85,0.85M-0.85,0.85L0.85,-0.85'"},"size":{"value":25},"strokeWidth":{"value":1},"opacity":{"value":1}}}}}},
   "order":[{"field":"t","type":"quantitative"},{"field":"s","type":"quantitative","sort":"descending"}]}},
  {"transform":[{"filter":"datum.p==='b'"}],"mark":{"type":"point","filled":false,"size":14,"opacity":1,"strokeWidth":1},
   "encoding":{"x":{"field":"t","type":"quantitative"},"y":{"field":"s","type":"quantitative"},
   "stroke":{"field":"g","type":"nominal","scale":{"domain":["50 (n=23)","100 (n=22)","150 (n=57)","250 (n=101)","300 (n=67)"],"range":["#e2541f","#2e9a2e","#8f4fa8","#5b9bd5","#111111"]},"legend":null},
   "fill":{"field":"g","type":"nominal","scale":{"domain":["50 (n=23)","100 (n=22)","150 (n=57)","250 (n=101)","300 (n=67)"],"range":["#e2541f","#ffffff","#8f4fa8","#5b9bd5","#111111"]},"legend":null},
   "shape":{"field":"g","type":"nominal","scale":{"domain":["50 (n=23)","100 (n=22)","150 (n=57)","250 (n=101)","300 (n=67)"],"range":["circle","square","triangle-up","diamond","M-1,-1L1,1M-1,1L1,-1"]},"legend":null}}}
 ]}
],"spacing":4,"resolve":{"scale":{"color":"independent","fill":"independent","stroke":"independent","shape":"independent"},"legend":{"color":"independent"}}},
{"hconcat":[
{"width":285,"height":188,
 "layer":[
  {"data":{"values":[{}]},"mark":{"type":"rect","fill":"#ffffff","fillOpacity":0,"stroke":"#bfbfbf","strokeWidth":1},
   "encoding":{"x":{"datum":-20.63,"type":"quantitative","scale":{"domain":[0,120],"nice":false,"zero":false},"axis":{"title":"Time (days)","values":[0,20,40,60,80,100,120],"tickCount":10,"grid":false}},"x2":{"datum":133.05},"y":{"datum":-0.2733,"type":"quantitative","scale":{"domain":[0,1.1],"nice":false,"zero":false},"axis":{"title":"Survival probability","values":[0,0.2,0.4,0.6,0.8,1],"tickCount":10,"format":".1~f","grid":false,"titleY":102}},"y2":{"datum":1.1778}}},
  {"data":{"values":[{}]},"mark":{"type":"text","text":"c","fontSize":17,"fontWeight":"bold","font":"Liberation Sans","align":"left","baseline":"alphabetic","color":"#000000"},
   "encoding":{"x":{"datum":-16.84,"type":"quantitative"},"y":{"datum":1.0333,"type":"quantitative"}}},
  {"transform":[{"filter":"datum.p==='c'"}],"mark":{"type":"line","strokeWidth":1},
   "encoding":{"x":{"field":"t","type":"quantitative","title":"Time (days)"},"y":{"field":"s","type":"quantitative","title":"Survival probability"},
   "color":{"field":"g","type":"nominal","scale":{"domain":["50 (n=19)","100 (n=21)","150 (n=15)","250 (n=48)","300 (n=9)"],"range":["#e2541f","#2e9a2e","#8f4fa8","#5b9bd5","#111111"]},"legend":{"title":"Larval density","orient":"none","legendX":238,"legendY":-2.8,"rowPadding":7,"labelFontSize":9.5,"titleFontSize":8.5,"encode":{"symbols":{"update":{"shape":{"signal":"indexof(datum.value,'50 ')===0 ? 'M-3,0H3M0.85,0A0.85,0.85,0,1,1,-0.85,0A0.85,0.85,0,1,1,0.85,0Z' : indexof(datum.value,'100 ')===0 ? 'M-3,0H-0.85M0.85,0H3M-0.85,-0.85H0.85V0.85H-0.85Z' : indexof(datum.value,'150 ')===0 ? 'M-3,0H3M0,-1L1,0.8H-1Z' : indexof(datum.value,'250 ')===0 ? 'M-3,0H3M0,-1L1,0L0,1L-1,0Z' : 'M-3,0H3M-0.85,-0.85L0.85,0.85M-0.85,0.85L0.85,-0.85'"},"size":{"value":25},"strokeWidth":{"value":1},"opacity":{"value":1}}}}}},
   "order":[{"field":"t","type":"quantitative"},{"field":"s","type":"quantitative","sort":"descending"}]}},
  {"transform":[{"filter":"datum.p==='c'"}],"mark":{"type":"point","filled":false,"size":14,"opacity":1,"strokeWidth":1},
   "encoding":{"x":{"field":"t","type":"quantitative"},"y":{"field":"s","type":"quantitative"},
   "stroke":{"field":"g","type":"nominal","scale":{"domain":["50 (n=19)","100 (n=21)","150 (n=15)","250 (n=48)","300 (n=9)"],"range":["#e2541f","#2e9a2e","#8f4fa8","#5b9bd5","#111111"]},"legend":null},
   "fill":{"field":"g","type":"nominal","scale":{"domain":["50 (n=19)","100 (n=21)","150 (n=15)","250 (n=48)","300 (n=9)"],"range":["#e2541f","#ffffff","#8f4fa8","#5b9bd5","#111111"]},"legend":null},
   "shape":{"field":"g","type":"nominal","scale":{"domain":["50 (n=19)","100 (n=21)","150 (n=15)","250 (n=48)","300 (n=9)"],"range":["circle","square","triangle-up","diamond","M-1,-1L1,1M-1,1L1,-1"]},"legend":null}}}
 ]},
{"width":285,"height":188,
 "layer":[
  {"data":{"values":[{}]},"mark":{"type":"rect","fill":"#ffffff","fillOpacity":0,"stroke":"#bfbfbf","strokeWidth":1},
   "encoding":{"x":{"datum":-21.89,"type":"quantitative","scale":{"domain":[0,120],"nice":false,"zero":false},"axis":{"title":"Time (days)","values":[0,20,40,60,80,100,120],"tickCount":10,"grid":false}},"x2":{"datum":131.79},"y":{"datum":-0.2733,"type":"quantitative","scale":{"domain":[0,1.1],"nice":false,"zero":false},"axis":{"title":"Survival probability","values":[0,0.2,0.4,0.6,0.8,1],"tickCount":10,"format":".1~f","grid":false,"titleY":102}},"y2":{"datum":1.1778}}},
  {"data":{"values":[{}]},"mark":{"type":"text","text":"d","fontSize":17,"fontWeight":"bold","font":"Liberation Sans","align":"left","baseline":"alphabetic","color":"#000000"},
   "encoding":{"x":{"datum":-17.81,"type":"quantitative"},"y":{"datum":1.0333,"type":"quantitative"}}},
  {"transform":[{"filter":"datum.p==='d'"}],"mark":{"type":"line","strokeWidth":1},
   "encoding":{"x":{"field":"t","type":"quantitative","title":"Time (days)"},"y":{"field":"s","type":"quantitative","title":"Survival probability"},
   "color":{"field":"g","type":"nominal","scale":{"domain":["50 (n=20)","100 (n=2)","150 (n=11)","300 (n=103)"],"range":["#e2541f","#2e9a2e","#8f4fa8","#111111"]},"legend":{"title":"Larval density","orient":"none","legendX":234,"legendY":1.5,"rowPadding":11,"labelFontSize":9.5,"titleFontSize":8.5,"encode":{"symbols":{"update":{"shape":{"signal":"indexof(datum.value,'50 ')===0 ? 'M-3,0H3M0.85,0A0.85,0.85,0,1,1,-0.85,0A0.85,0.85,0,1,1,0.85,0Z' : indexof(datum.value,'100 ')===0 ? 'M-3,0H-0.85M0.85,0H3M-0.85,-0.85H0.85V0.85H-0.85Z' : indexof(datum.value,'150 ')===0 ? 'M-3,0H3M0,-1L1,0.8H-1Z' : indexof(datum.value,'250 ')===0 ? 'M-3,0H3M0,-1L1,0L0,1L-1,0Z' : 'M-3,0H3M-0.85,-0.85L0.85,0.85M-0.85,0.85L0.85,-0.85'"},"size":{"value":25},"strokeWidth":{"value":1},"opacity":{"value":1}}}}}},
   "order":[{"field":"t","type":"quantitative"},{"field":"s","type":"quantitative","sort":"descending"}]}},
  {"transform":[{"filter":"datum.p==='d'"}],"mark":{"type":"point","filled":false,"size":14,"opacity":1,"strokeWidth":1},
   "encoding":{"x":{"field":"t","type":"quantitative"},"y":{"field":"s","type":"quantitative"},
   "stroke":{"field":"g","type":"nominal","scale":{"domain":["50 (n=20)","100 (n=2)","150 (n=11)","300 (n=103)"],"range":["#e2541f","#2e9a2e","#8f4fa8","#111111"]},"legend":null},
   "fill":{"field":"g","type":"nominal","scale":{"domain":["50 (n=20)","100 (n=2)","150 (n=11)","300 (n=103)"],"range":["#e2541f","#ffffff","#8f4fa8","#111111"]},"legend":null},
   "shape":{"field":"g","type":"nominal","scale":{"domain":["50 (n=20)","100 (n=2)","150 (n=11)","300 (n=103)"],"range":["circle","square","triangle-up","M-1,-1L1,1M-1,1L1,-1"]},"legend":null}}}
 ]}
],"spacing":4,"resolve":{"scale":{"color":"independent","fill":"independent","stroke":"independent","shape":"independent"},"legend":{"color":"independent"}}}
],
"config":{
 "view":{"stroke":null},
 "axis":{"domainColor":"#868686","tickColor":"#868686","tickSize":4,"labelFont":"Liberation Sans","labelFontSize":11,"labelColor":"#000000","titleFont":"Liberation Sans","titleFontSize":10.7,"titleFontWeight":"bold","titleColor":"#000000","labelOverlap":false},
 "axisX":{"labelPadding":0,"titlePadding":13},
 "axisY":{"labelPadding":4,"titlePadding":7},
 "legend":{"strokeColor":"#404040","padding":4,"titleAnchor":"middle","titleFont":"Liberation Sans","titleFontSize":8.5,"titleFontWeight":"bold","titleColor":"#000000","titlePadding":4,"labelFont":"Liberation Sans","labelFontSize":9.5,"labelColor":"#000000","symbolSize":25,"symbolOffset":5,"labelOffset":5,"symbolStrokeWidth":1}
}
}
